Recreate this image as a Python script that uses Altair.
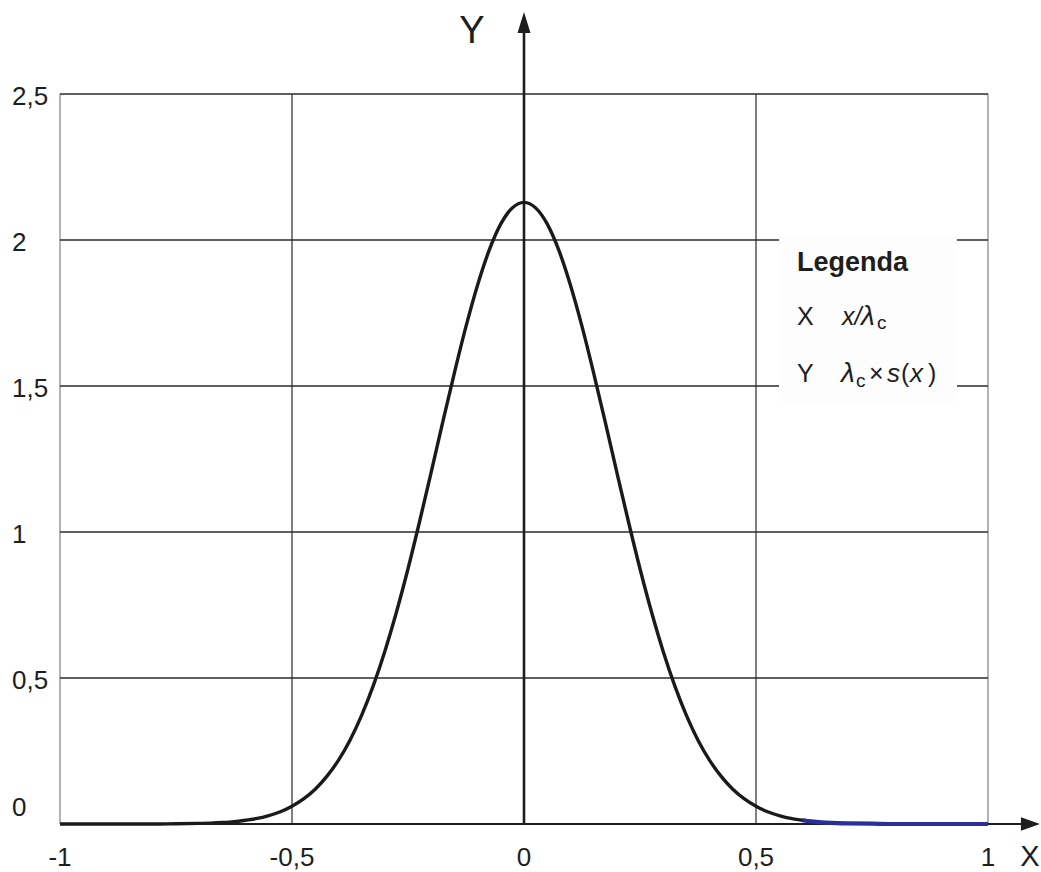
import altair as alt
import pandas as pd

# Sample positions x/λc and the weighting curve λc·s(x)
curve_x = [-1.0, -0.95, -0.9, -0.85, -0.8, -0.75, -0.7, -0.675, -0.65, -0.625,
           -0.6, -0.575, -0.55, -0.525, -0.5, -0.475, -0.45, -0.425, -0.4, -0.375,
           -0.35, -0.325, -0.3, -0.275, -0.25, -0.225, -0.2, -0.175, -0.15, -0.125,
           -0.1, -0.075, -0.05, -0.025, 0.0, 0.025, 0.05, 0.075, 0.1, 0.125,
           0.15, 0.175, 0.2, 0.225, 0.25, 0.275, 0.3, 0.325, 0.35, 0.375,
           0.4, 0.425, 0.45, 0.475, 0.5, 0.525, 0.55, 0.575, 0.6, 0.625,
           0.65, 0.675, 0.7, 0.75, 0.8, 0.85, 0.9, 0.95, 1.0]
curve_y = [0.0, 0.0, 0.0, 0.0, 0.0, 0.001, 0.002, 0.003, 0.005, 0.008,
           0.013, 0.019, 0.029, 0.042, 0.061, 0.086, 0.119, 0.163, 0.218, 0.287,
           0.372, 0.473, 0.591, 0.725, 0.874, 1.036, 1.205, 1.377, 1.545, 1.704,
           1.846, 1.965, 2.055, 2.110, 2.129, 2.110, 2.055, 1.965, 1.846, 1.704,
           1.545, 1.377, 1.205, 1.036, 0.874, 0.725, 0.591, 0.473, 0.372, 0.287,
           0.218, 0.163, 0.119, 0.086, 0.061, 0.042, 0.029, 0.019, 0.013, 0.008,
           0.005, 0.003, 0.002, 0.001, 0.0, 0.0, 0.0, 0.0, 0.0]

# Grid and tick labels
x_grid = [-0.5, 0.5]
x_frame = [-1.0, 1.0]
y_grid = [0.5, 1.0, 1.5, 2.0, 2.5]
x_ticks = [-1.0, -0.5, 0.0, 0.5, 1.0]
x_tick_labels = ["-1", "-0,5", "0", "0,5", "1"]
y_ticks = [0.0, 0.5, 1.0, 1.5, 2.0, 2.5]
y_tick_labels = ["0", "0,5", "1", "1,5", "2", "2,5"]

X_MIN, X_MAX = -1.0, 1.0
Y_MIN, Y_MAX = 0.0, 2.5
X_ARROW_TIP = 1.112
Y_ARROW_TIP = 2.781

LEFT, TOP = 60, 94
W, H = 928, 730
FONT = "Liberation Sans"
INK = "#1e1e1e"

xs = alt.Scale(domain=[X_MIN, X_MAX], nice=False, zero=False)
ys = alt.Scale(domain=[Y_MIN, Y_MAX], nice=False, zero=False)


def X(field):
    return alt.X(field, type="quantitative", scale=xs, axis=None)


def Y(field):
    return alt.Y(field, type="quantitative", scale=ys, axis=None)


curve = pd.DataFrame({"x": curve_x, "y": curve_y})

# vertical grid lines and the frame's side edges
vgrid = pd.DataFrame({"x": x_grid, "y0": Y_MIN, "y1": Y_MAX})
vframe = pd.DataFrame({"x": x_frame, "y0": Y_MIN, "y1": Y_MAX})
hgrid = pd.DataFrame({"y": y_grid, "x0": X_MIN, "x1": X_MAX})

vgrid_layer = alt.Chart(vgrid).mark_rule(color="#2a2a2a", strokeWidth=1.2).encode(
    x=X("x"), y=Y("y0"), y2="y1")
vframe_layer = alt.Chart(vframe).mark_rule(color="#b4b4b4", strokeWidth=2).encode(
    x=X("x"), y=Y("y0"), y2="y1")
hgrid_layer = alt.Chart(hgrid).mark_rule(color="#2a2a2a", strokeWidth=1.3).encode(
    y=Y("y"), x=X("x0"), x2="x1")

# white panel behind the legend text
legend_box = alt.Chart(pd.DataFrame({"k": [0]})).mark_rect(color="#fdfdfd").encode(
    x=alt.value(779 - LEFT), x2=alt.value(957 - LEFT),
    y=alt.value(234 - TOP), y2=alt.value(402 - TOP))

# coordinate axes with arrowheads
x_axis_line = alt.Chart(pd.DataFrame({"x0": [X_MIN], "x1": [1.075], "y": [0.0]})).mark_rule(
    color=INK, strokeWidth=2.2).encode(x=X("x0"), x2="x1", y=Y("y"))
y_axis_line = alt.Chart(pd.DataFrame({"x": [0.0], "y0": [Y_MIN], "y1": [2.72]})).mark_rule(
    color=INK, strokeWidth=2.6).encode(x=X("x"), y=Y("y0"), y2="y1")
x_arrow = alt.Chart(pd.DataFrame({"x": [X_ARROW_TIP], "y": [0.0]})).mark_point(
    shape="M0,0L-1,-0.36L-1,0.36Z", filled=True, size=1444, color=INK, opacity=1
).encode(x=X("x"), y=Y("y"))
y_arrow = alt.Chart(pd.DataFrame({"x": [0.0], "y": [Y_ARROW_TIP]})).mark_point(
    shape="M0,0L-0.31,1L0.31,1Z", filled=True, size=1764, color=INK, opacity=1
).encode(x=X("x"), y=Y("y"))

# the weighting curve; the tail beyond x/λc = 0.6 is drawn in blue
black_curve = alt.Chart(curve).transform_filter("datum.x <= 0.625").mark_line(
    color="#1a1a1a", strokeWidth=3.4, interpolate="monotone").encode(x=X("x"), y=Y("y"))
blue_curve = alt.Chart(curve).transform_filter("datum.x >= 0.6").mark_line(
    color="#2a2f9c", strokeWidth=4.2, interpolate="monotone").encode(x=X("x"), y=Y("y"))

# tick labels
xt = pd.DataFrame({"v": x_ticks, "label": x_tick_labels})
x_labels = alt.Chart(xt).mark_text(
    font=FONT, fontSize=26, color=INK, align="center", baseline="alphabetic"
).encode(x=X("v"), y=alt.value(866 - TOP), text="label:N")

yt = pd.DataFrame({"v": y_ticks, "label": y_tick_labels})
y_labels = alt.Chart(yt).transform_filter("datum.v > 0").mark_text(
    font=FONT, fontSize=26, color=INK, align="left", baseline="alphabetic", dy=11
).encode(y=Y("v"), x=alt.value(12 - LEFT), text="label:N")
y_zero_label = alt.Chart(yt).transform_filter("datum.v == 0").mark_text(
    font=FONT, fontSize=26, color=INK, align="left", baseline="alphabetic", dy=-8
).encode(y=Y("v"), x=alt.value(12 - LEFT), text="label:N")


def note(text, px, py, size, italic=False, bold=False, align="left"):
    """A single piece of free text placed in page pixels."""
    kw = dict(font=FONT, fontSize=size, color=INK, align=align, baseline="alphabetic")
    if italic:
        kw["fontStyle"] = "italic"
    if bold:
        kw["fontWeight"] = "bold"
    return alt.Chart(pd.DataFrame({"t": [text]})).mark_text(**kw).encode(
        x=alt.value(px - LEFT), y=alt.value(py - TOP), text="t:N")


texts = [
    note("Y", 472, 43, 38, align="center"),
    note("X", 1030, 866, 29, align="center"),
    note("Legenda", 797, 271, 27, bold=True),
    note("X", 797, 325, 25),
    note("x/", 842, 325, 25, italic=True),
    note("λ", 861, 325, 28, italic=True),
    note("c", 877, 329, 19),
    note("Y", 797, 382, 25),
    note("λ", 841, 382, 28, italic=True),
    note("c", 856, 387, 19),
    note("×", 869, 382, 25),
    note("s", 887, 382, 26, italic=True),
    note("(", 901, 382, 25),
    note("x", 910, 382, 26, italic=True),
    note(")", 928, 382, 25),
]

chart = alt.layer(
    vframe_layer, vgrid_layer, hgrid_layer, legend_box,
    x_axis_line, y_axis_line, black_curve, blue_curve, x_arrow, y_arrow,
    x_labels, y_labels, y_zero_label, *texts
).properties(
    width=W, height=H,
    padding={"left": LEFT, "top": TOP, "right": 1041 - LEFT - W, "bottom": 872 - TOP - H},
    autosize=alt.AutoSizeParams(type="none"),
    background="white",
).configure_view(stroke=None)

chart.save("out.html", embed_options={"renderer": "svg", "actions": False})
